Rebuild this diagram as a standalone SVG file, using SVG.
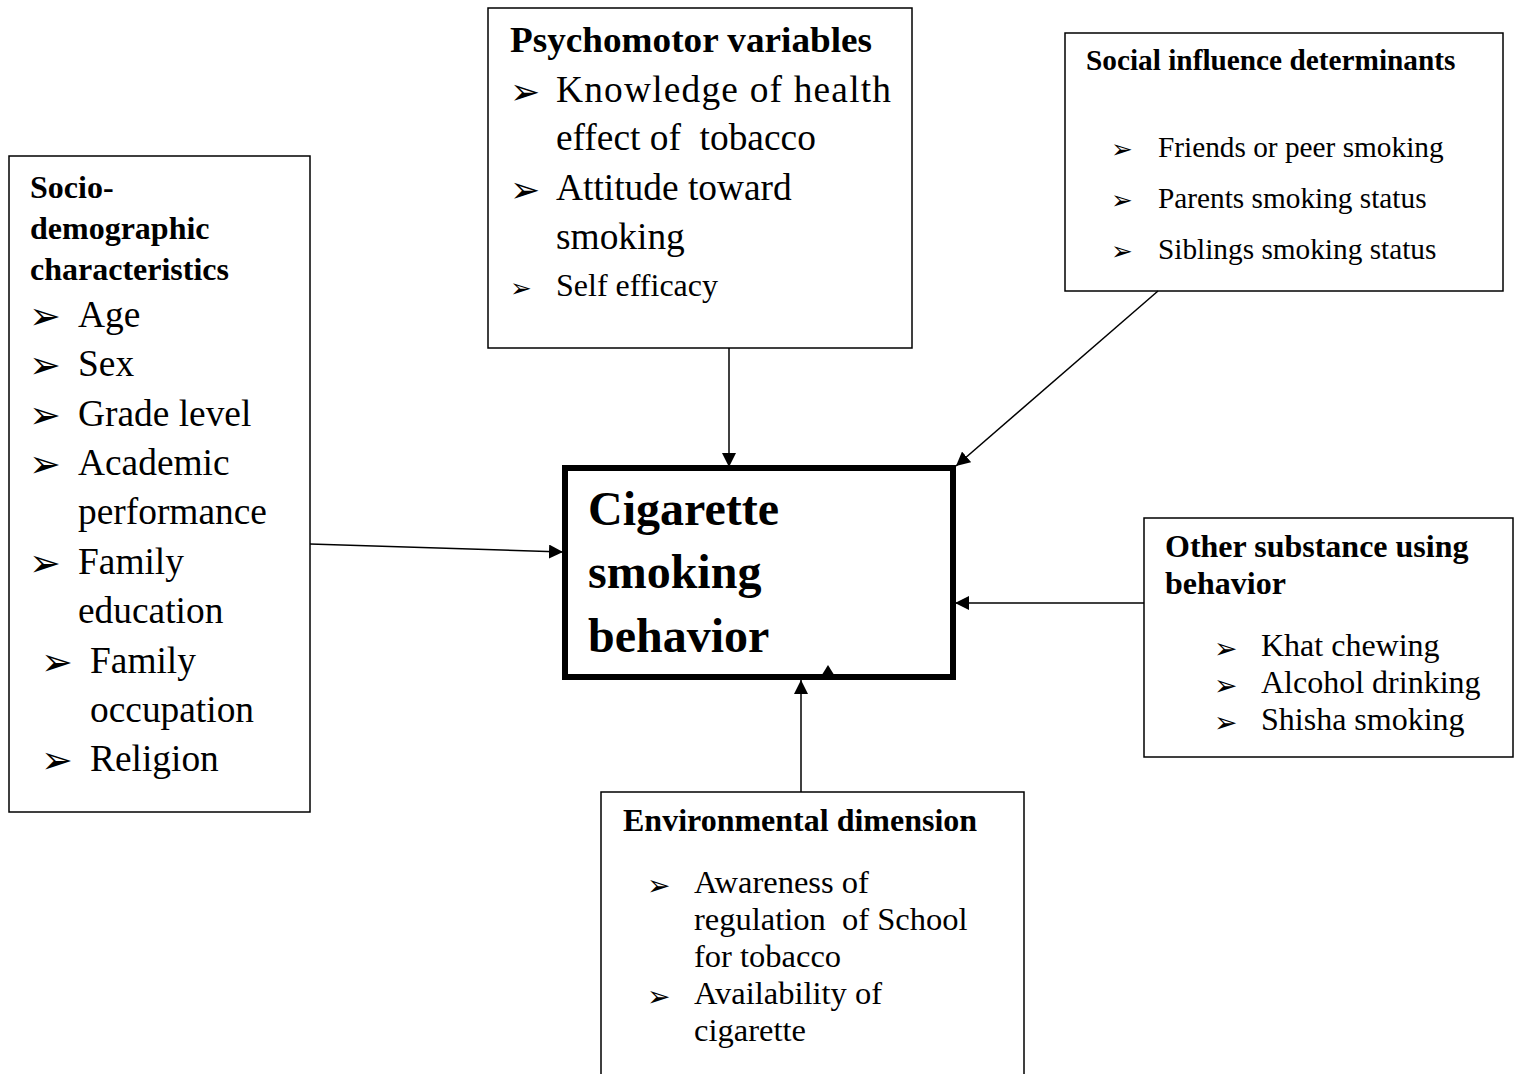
<svg xmlns="http://www.w3.org/2000/svg" width="1517" height="1074" viewBox="0 0 1517 1074">
<defs>
<style>
.box{fill:#fff;stroke:#000;stroke-width:1.5}
.main{fill:#fff;stroke:#000;stroke-width:6}
.t{font-family:"Liberation Serif","Times New Roman",serif;fill:#000}
.b{font-weight:bold}
.bul{font-family:"DejaVu Sans",sans-serif;fill:#000}
.con{stroke:#000;stroke-width:1.5;fill:none}
</style>
<marker id="ah" viewBox="0 0 10 10" refX="10" refY="5" markerWidth="14" markerHeight="14" markerUnits="userSpaceOnUse" orient="auto">
<path d="M0,0 L10,5 L0,10 Z" fill="#000"/>
</marker>
</defs>
<rect width="1517" height="1074" fill="#fff"/>

<g id="socio">
<rect class="box" x="9" y="156" width="301" height="656"/>
<text class="t b" font-size="32" x="30" y="198">Socio-</text>
<text class="t b" font-size="32" x="30" y="239">demographic</text>
<text class="t b" font-size="32" x="30" y="280">characteristics</text>
<g class="bul" font-size="38">
<text x="29" y="329">➢</text>
<text x="29" y="378">➢</text>
<text x="29" y="428">➢</text>
<text x="29" y="477">➢</text>
<text x="29" y="576">➢</text>
<text x="41" y="675">➢</text>
<text x="41" y="773">➢</text>
</g>
<g class="t" font-size="37.4">
<text x="78" y="327">Age</text>
<text x="78" y="376">Sex</text>
<text x="78" y="426">Grade level</text>
<text x="78" y="475">Academic</text>
<text x="78" y="524">performance</text>
<text x="78" y="574">Family</text>
<text x="78" y="623">education</text>
<text x="90" y="673">Family</text>
<text x="90" y="722">occupation</text>
<text x="90" y="771">Religion</text>
</g>
</g>

<g id="psychomotor">
<rect class="box" x="488" y="8" width="424" height="340"/>
<text class="t b" font-size="36" x="510" y="52" textLength="362" lengthAdjust="spacingAndGlyphs">Psychomotor variables</text>
<g class="bul">
<text font-size="36" x="510" y="104">➢</text>
<text font-size="36" x="510" y="202">➢</text>
<text font-size="26" x="510" y="297">➢</text>
</g>
<g class="t" font-size="37.4">
<text x="556" y="102" textLength="335" lengthAdjust="spacing">Knowledge of health</text>
<text x="556" y="150" xml:space="preserve">effect of  tobacco</text>
<text x="556" y="200">Attitude toward</text>
<text x="556" y="249">smoking</text>
<text x="556" y="296" font-size="32">Self efficacy</text>
</g>
</g>

<g id="social">
<rect class="box" x="1065" y="33" width="438" height="258"/>
<text class="t b" font-size="29.3" x="1086" y="70">Social influence determinants</text>
<g class="bul" font-size="26">
<text x="1111" y="158">➢</text>
<text x="1111" y="209">➢</text>
<text x="1111" y="260">➢</text>
</g>
<g class="t" font-size="29.3">
<text x="1158" y="157">Friends or peer smoking</text>
<text x="1158" y="208">Parents smoking status</text>
<text x="1158" y="259">Siblings smoking status</text>
</g>
</g>

<g id="other">
<rect class="box" x="1144" y="518" width="369" height="239"/>
<text class="t b" font-size="32" x="1165" y="557">Other substance using</text>
<text class="t b" font-size="32" x="1165" y="594">behavior</text>
<g class="bul" font-size="28">
<text x="1214" y="658">➢</text>
<text x="1214" y="695">➢</text>
<text x="1214" y="732">➢</text>
</g>
<g class="t" font-size="32">
<text x="1261" y="656">Khat chewing</text>
<text x="1261" y="693">Alcohol drinking</text>
<text x="1261" y="730">Shisha smoking</text>
</g>
</g>

<g id="environmental">
<rect class="box" x="601" y="792" width="423" height="300"/>
<text class="t b" font-size="32" x="623" y="831">Environmental dimension</text>
<g class="bul" font-size="28">
<text x="647" y="895">➢</text>
<text x="647" y="1006">➢</text>
</g>
<g class="t" font-size="32.5">
<text x="694" y="893">Awareness of</text>
<text x="694" y="930" xml:space="preserve">regulation  of School</text>
<text x="694" y="967">for tobacco</text>
<text x="694" y="1004">Availability of</text>
<text x="694" y="1041">cigarette</text>
</g>
</g>

<g id="center">
<rect class="main" x="565" y="468" width="388" height="209"/>
<text class="t b" font-size="48" x="588" y="525">Cigarette</text>
<text class="t b" font-size="48" x="588" y="588">smoking</text>
<text class="t b" font-size="48" x="588" y="652">behavior</text>
<polygon points="820,678 828,665 836,678" fill="#000"/>
</g>

<g id="connectors">
<line class="con" x1="310" y1="544" x2="563" y2="552" marker-end="url(#ah)"/>
<line class="con" x1="729" y1="348" x2="729" y2="467" marker-end="url(#ah)"/>
<line class="con" x1="1158" y1="291" x2="956" y2="466" marker-end="url(#ah)"/>
<line class="con" x1="1144" y1="603" x2="955" y2="603" marker-end="url(#ah)"/>
<line class="con" x1="801" y1="792" x2="801" y2="680" marker-end="url(#ah)"/>
</g>
</svg>
